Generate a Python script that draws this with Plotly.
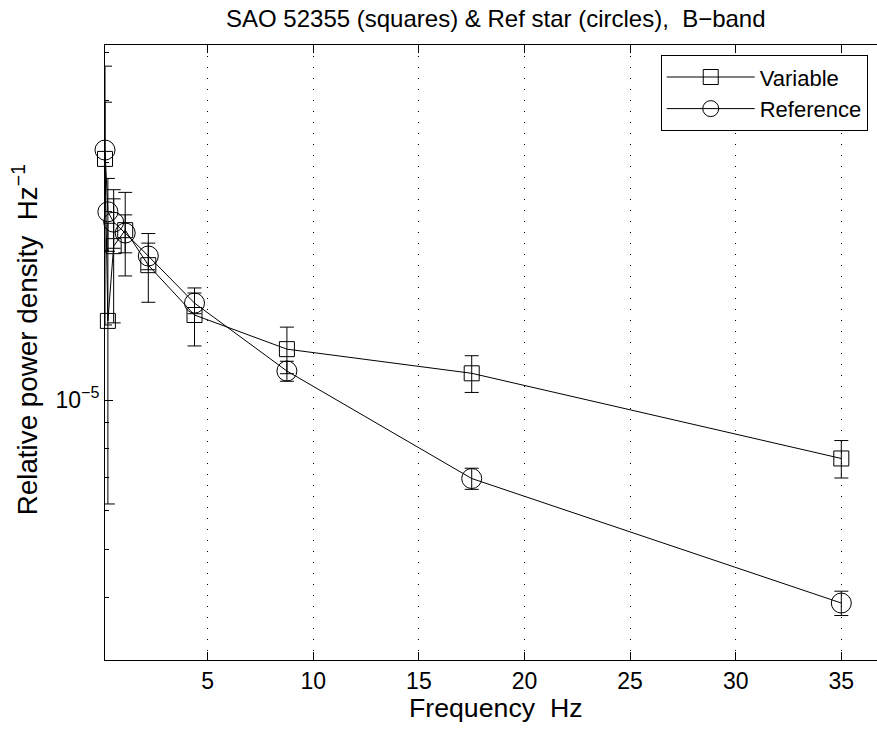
import plotly.graph_objects as go

# ---- data ----
freq = [0.1367, 0.2734, 0.5469, 1.0938, 2.1875, 4.375, 8.75, 17.5, 35.0]
var_psd = [3.056e-5, 1.443e-5, 2.04e-5, 2.197e-5, 1.868e-5, 1.483e-5, 1.266e-5, 1.132e-5, 7.63e-6]
var_err = [1.64e-5, 8.25e-6, 6.1e-6, 4.2e-6, 2.95e-6, 1.98e-6, 1.36e-6, 0.96e-6, 0.66e-6]
ref_psd = [3.184e-5, 2.392e-5, 2.28e-5, 2.168e-5, 1.949e-5, 1.567e-5, 1.144e-5, 6.953e-6, 3.906e-6]
ref_err = [7.9e-6, 4.0e-6, 2.6e-6, 1.9e-6, 1.2e-6, 0.75e-6, 0.53e-6, 0.34e-6, 0.22e-6]

x_ticks = [5, 10, 15, 20, 25, 30, 35]
y_major = [1e-5]
y_major_text = ["10<sup>\u22125</sup>"]
y_minor = [4e-6, 5e-6, 6e-6, 7e-6, 8e-6, 9e-6, 2e-5, 3e-5, 4e-5, 5e-5]

title_text = "SAO 52355 (squares) &amp; Ref star (circles),\u00a0 B\u2212band"
xlabel_text = "Frequency\u00a0 Hz"
ylabel_text = "Relative power density\u00a0 Hz<sup>\u22121</sup>"

FONT = "Liberation Sans, Arial, Helvetica, sans-serif"

fig = go.Figure()
fig.add_trace(go.Scatter(
    x=freq, y=var_psd, name="Variable", mode="lines+markers",
    line=dict(color="black", width=1),
    marker=dict(symbol="square-open", size=15, color="black", line=dict(width=1, color="black")),
    error_y=dict(type="data", array=var_err, visible=True, color="black", thickness=1, width=7),
    cliponaxis=False,
))
fig.add_trace(go.Scatter(
    x=freq, y=ref_psd, name="Reference", mode="lines+markers",
    line=dict(color="black", width=1),
    marker=dict(symbol="circle-open", size=20, color="black", line=dict(width=1, color="black")),
    error_y=dict(type="data", array=ref_err, visible=True, color="black", thickness=1, width=7),
    cliponaxis=False,
))

x0 = 0.1367
x1 = x0 + 772 / 21.12

fig.update_layout(
    width=877, height=730,
    margin=dict(l=105, r=0, t=45, b=70, pad=0),
    paper_bgcolor="white", plot_bgcolor="white",
    font=dict(family=FONT, size=23, color="black"),
    showlegend=True,
    legend=dict(
        x=0.988, xanchor="right", y=0.9834, yanchor="top",
        bgcolor="white", bordercolor="black", borderwidth=1,
        font=dict(family=FONT, size=22, color="black"),
        itemwidth=88, tracegroupgap=0,
    ),
    xaxis=dict(
        type="linear", range=[x0, x1],
        tickmode="array", tickvals=x_ticks, ticktext=[str(v) for v in x_ticks],
        ticks="inside", ticklen=8, tickwidth=1, tickcolor="black",
        showline=True, linecolor="black", linewidth=1, mirror="ticks",
        showgrid=True, gridcolor="black", gridwidth=1, griddash="1px,10px",
        zeroline=False,
        tickfont=dict(family=FONT, size=23, color="black"),
    ),
    yaxis=dict(
        type="log", range=[-5.5229, -4.2857],
        tickmode="array", tickvals=y_major, ticktext=y_major_text,
        ticks="inside", ticklen=8, tickwidth=1, tickcolor="black",
        minor=dict(tickmode="array", tickvals=y_minor, ticks="inside", ticklen=4,
                   tickwidth=1, tickcolor="black", showgrid=False),
        showline=True, linecolor="black", linewidth=1, mirror=False,
        showgrid=False, zeroline=False,
        ticklabelstandoff=0,
        tickfont=dict(family=FONT, size=23, color="black"),
    ),
    annotations=[
        dict(text=title_text, xref="paper", yref="paper", x=0.507, y=1.0425,
             xanchor="center", yanchor="middle", showarrow=False,
             font=dict(family=FONT, size=24, color="black")),
        dict(text=xlabel_text, xref="paper", yref="paper", x=0.506, y=-0.078,
             xanchor="center", yanchor="middle", showarrow=False,
             font=dict(family=FONT, size=26.7, color="black")),
        dict(text=ylabel_text, xref="paper", yref="paper", x=-0.1035, y=0.52,
             xanchor="center", yanchor="middle", showarrow=False, textangle=-90,
             font=dict(family=FONT, size=27.8, color="black")),
    ],
)

# remove the browser's default 8px body margin so the figure fills the window exactly
fig.write_html(
    "out.html",
    config={"displayModeBar": False, "staticPlot": False},
    post_script="document.body.style.margin='0px';",
)
